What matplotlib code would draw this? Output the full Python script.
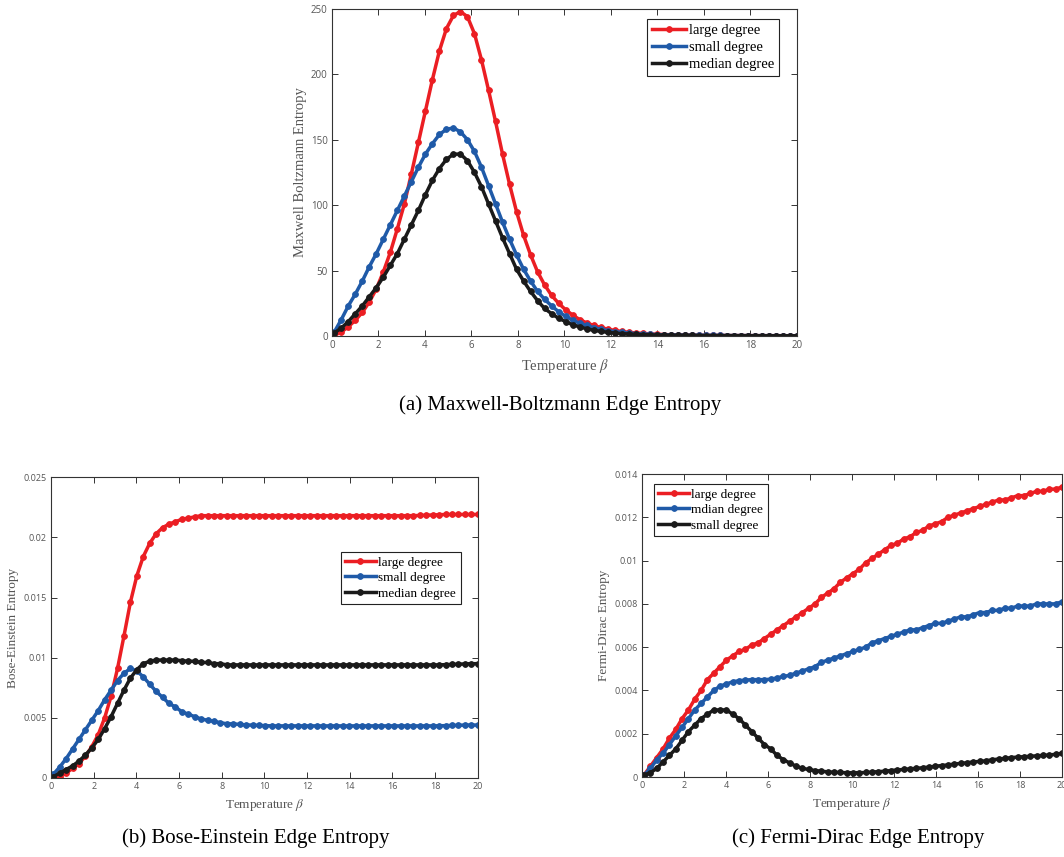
import numpy as np
import matplotlib
matplotlib.use("Agg")
import matplotlib.pyplot as plt
from matplotlib.ticker import FuncFormatter

plt.rcParams['mathtext.fontset'] = 'stix'

# temperature grid shared by all three panels
beta = np.linspace(0.1, 20, 67)

# (a) Maxwell-Boltzmann edge entropy
mb_large = [0.5, 3, 7, 12, 18, 26, 36, 49, 64, 82, 101, 124, 148, 172, 196, 218, 235, 245,
            248, 244, 231, 211, 188, 164, 139, 116, 95, 77, 62, 49, 39, 31, 25, 20, 16, 12.5,
            10, 8, 6.5, 5.2, 4.2, 3.4, 2.8, 2.3, 1.9, 1.6, 1.3, 1.1, 0.9, 0.8, 0.7, 0.6, 0.5,
            0.45, 0.4, 0.35, 0.3, 0.28, 0.26, 0.24, 0.22, 0.2, 0.19, 0.18, 0.17, 0.16, 0.15]
mb_small = [3, 12.5, 23, 32, 42, 53, 63, 74, 85, 96, 107, 118, 129, 139, 147, 154, 158, 159,
            156, 150, 141, 129, 115, 101, 87, 74, 62, 51, 42, 34, 28, 23, 18.5, 15, 12, 9.8,
            8, 6.4, 5.1, 4.1, 3.3, 2.7, 2.2, 1.8, 1.5, 1.25, 1.05, 0.9, 0.78, 0.68, 0.6, 0.53,
            0.47, 0.42, 0.38, 0.34, 0.31, 0.29, 0.27, 0.25, 0.23, 0.22, 0.21, 0.2, 0.19, 0.18, 0.17]
mb_median = [2.3, 6, 11, 17, 23, 30, 37, 45, 54, 63, 74, 85, 96, 108, 119, 128, 135, 139,
             139, 134, 125, 114, 101, 88, 75, 63, 51, 42, 34, 27, 21, 17, 13.5, 11, 8.5, 7,
             5.5, 4.3, 3.5, 2.8, 2.2, 1.8, 1.5, 1.2, 1.0, 0.85, 0.72, 0.62, 0.54, 0.47, 0.42,
             0.37, 0.33, 0.3, 0.28, 0.26, 0.24, 0.22, 0.21, 0.2, 0.19, 0.18, 0.17, 0.16, 0.15, 0.14, 0.13]

# (b) Bose-Einstein edge entropy
be_large = [0.0, 0.0001, 0.0004, 0.0008, 0.0012, 0.0018, 0.0026, 0.0036, 0.0050, 0.0068,
            0.0091, 0.0118, 0.0146, 0.0168, 0.0184, 0.0195, 0.0203, 0.0208, 0.0211, 0.0213,
            0.0215, 0.0216, 0.0217, 0.0218, 0.0218, 0.0218, 0.0218, 0.0218, 0.0218, 0.0218,
            0.0218, 0.0218, 0.0218, 0.0218, 0.0218, 0.0218, 0.0218, 0.0218, 0.0218, 0.0218,
            0.0218, 0.0218, 0.0218, 0.0218, 0.0218, 0.0218, 0.0218, 0.0218, 0.0218, 0.0218,
            0.0218, 0.0218, 0.0218, 0.0218, 0.0218, 0.0218, 0.0218, 0.02182, 0.02184, 0.02186,
            0.02188, 0.0219, 0.0219, 0.0219, 0.0219, 0.0219, 0.0219]
be_small = [0.0003, 0.0009, 0.0016, 0.0024, 0.0032, 0.0040, 0.0048, 0.0056, 0.0065, 0.0073,
            0.0081, 0.0087, 0.0091, 0.0089, 0.0084, 0.0078, 0.0072, 0.0067, 0.0062, 0.0059,
            0.0055, 0.0053, 0.0051, 0.0049, 0.0048, 0.0047, 0.0046, 0.0045, 0.0045, 0.00445,
            0.0044, 0.0044, 0.00437, 0.00435, 0.00433, 0.00433, 0.00433, 0.00433, 0.00433,
            0.00433, 0.00433, 0.00433, 0.00433, 0.00433, 0.00433, 0.00433, 0.00433, 0.00433,
            0.00433, 0.00433, 0.00433, 0.00433, 0.00433, 0.00433, 0.00433, 0.00433, 0.00433,
            0.00433, 0.00433, 0.00433, 0.00434, 0.00435, 0.00437, 0.00438, 0.0044, 0.0044, 0.0044]
be_median = [0.0001, 0.0004, 0.0007, 0.0010, 0.0014, 0.0019, 0.0025, 0.0032, 0.0041, 0.0051,
             0.0062, 0.0073, 0.0083, 0.0090, 0.0095, 0.0097, 0.0098, 0.0098, 0.0098, 0.0098,
             0.00975, 0.0097, 0.0097, 0.0096, 0.0096, 0.0095, 0.0095, 0.0094, 0.0094, 0.0094,
             0.0094, 0.0094, 0.0094, 0.0094, 0.0094, 0.0094, 0.0094, 0.0094, 0.0094, 0.0094,
             0.0094, 0.0094, 0.0094, 0.0094, 0.0094, 0.0094, 0.0094, 0.0094, 0.0094, 0.0094,
             0.0094, 0.0094, 0.0094, 0.0094, 0.0094, 0.0094, 0.0094, 0.0094, 0.0094, 0.0094,
             0.0094, 0.00942, 0.00944, 0.00946, 0.00948, 0.0095, 0.0095]

# (c) Fermi-Dirac edge entropy
fd_large = [0.0001, 0.0005, 0.0009, 0.0013, 0.0018, 0.0022, 0.0027, 0.0031, 0.0036, 0.0040,
            0.0045, 0.0048, 0.0051, 0.0054, 0.0056, 0.0058, 0.0059, 0.0061, 0.0062, 0.0064,
            0.0066, 0.0068, 0.0070, 0.0072, 0.0074, 0.0076, 0.0078, 0.0080, 0.0083, 0.0085,
            0.0087, 0.0090, 0.0092, 0.0094, 0.0096, 0.0099, 0.0101, 0.0103, 0.0105, 0.0107,
            0.0108, 0.0110, 0.0111, 0.0113, 0.0114, 0.0116, 0.0117, 0.0118, 0.0120, 0.0121,
            0.0122, 0.0123, 0.0124, 0.0125, 0.0126, 0.0127, 0.0128, 0.0128, 0.0129, 0.0130,
            0.0130, 0.0131, 0.0132, 0.0132, 0.0133, 0.0133, 0.0134]
fd_median = [0.0001, 0.0004, 0.0008, 0.0011, 0.0015, 0.0019, 0.0023, 0.0027, 0.0031, 0.0034,
             0.0037, 0.0040, 0.0042, 0.0043, 0.0044, 0.00445, 0.00448, 0.0045, 0.0045, 0.0045,
             0.00452, 0.00458, 0.00465, 0.0047, 0.0048, 0.0049, 0.0050, 0.0051, 0.0053, 0.0054,
             0.0055, 0.0056, 0.0057, 0.0058, 0.0059, 0.0060, 0.0062, 0.0063, 0.0064, 0.0065,
             0.0066, 0.0067, 0.0068, 0.0068, 0.0069, 0.0070, 0.0071, 0.0071, 0.0072, 0.0073,
             0.0074, 0.0074, 0.0075, 0.0076, 0.0076, 0.0077, 0.0077, 0.0078, 0.0078, 0.0079,
             0.0079, 0.0079, 0.0080, 0.0080, 0.0080, 0.0080, 0.0081]
fd_small = [0.0001, 0.0002, 0.0004, 0.0007, 0.0010, 0.0013, 0.0017, 0.0021, 0.0024, 0.0027,
            0.0029, 0.0031, 0.0031, 0.0031, 0.0029, 0.0027, 0.0024, 0.0021, 0.0018, 0.0015,
            0.0013, 0.0010, 0.0008, 0.00065, 0.0005, 0.0004, 0.00035, 0.0003, 0.00027, 0.00024,
            0.00022, 0.00021, 0.0002, 0.0002, 0.0002, 0.00021, 0.00023, 0.00025, 0.00027, 0.0003,
            0.00033, 0.00035, 0.00038, 0.0004, 0.00043, 0.00046, 0.0005, 0.00053, 0.00056, 0.0006,
            0.00063, 0.00066, 0.0007, 0.00072, 0.00075, 0.0008, 0.00083, 0.00086, 0.0009, 0.00092,
            0.00094, 0.00096, 0.00098, 0.001, 0.00102, 0.00105, 0.0011]

RED = '#EB1E23'
BLUE = '#1F5AA8'
BLACK = '#1A1A1A'
SERIF = 'Liberation Serif'
TICKFONT = 'Open Sans'


def draw_panel(ax, series, ymax, ystep, ylabel, fs_label, fs_tick, fs_leg, leg_loc, leg_anchor):
    for vals, color, name in series:
        ax.plot(beta, vals, color=color, lw=2.5, marker='o', markersize=4.2,
                markeredgewidth=0.6, markeredgecolor=color, label=name)
    ax.set_xlim(0, 20)
    ax.set_ylim(0, ymax)
    ax.set_xticks(np.arange(0, 21, 2))
    ax.set_yticks(np.arange(0, ymax + ystep / 2, ystep))
    ax.yaxis.set_major_formatter(FuncFormatter(lambda v, p: '%g' % round(v, 6)))
    ax.tick_params(direction='in', top=True, right=True, length=4, width=0.7,
                   colors='#333333', labelcolor='#555555', labelsize=fs_tick, pad=3)
    for lab in ax.get_xticklabels() + ax.get_yticklabels():
        lab.set_fontfamily(TICKFONT)
    for sp in ax.spines.values():
        sp.set_color('#333333')
        sp.set_linewidth(0.8)
    ax.set_xlabel(r'Temperature $\beta$', family=SERIF, fontsize=fs_label, color='#555555', labelpad=4)
    ax.set_ylabel(ylabel, family=SERIF, fontsize=fs_label, color='#555555', labelpad=3)
    leg = ax.legend(loc=leg_loc, bbox_to_anchor=leg_anchor, borderaxespad=0, fancybox=False,
                    edgecolor='#222222', framealpha=1, handlelength=2.3, handletextpad=0.2,
                    labelspacing=0.25, borderpad=0.35, prop={'family': SERIF, 'size': fs_leg})
    leg.get_frame().set_linewidth(0.8)


fig = plt.figure(figsize=(10.64, 8.57), dpi=100)

ax_a = fig.add_axes([0.312, 0.608, 0.437, 0.3816])
draw_panel(ax_a, [(mb_large, RED, 'large degree'), (mb_small, BLUE, 'small degree'),
                  (mb_median, BLACK, 'median degree')],
           250, 50, 'Maxwell Boltzmann Entropy', 10.5, 7, 10.5, 'upper right', (0.962, 0.97))

ax_b = fig.add_axes([0.048, 0.0922, 0.401, 0.351])
draw_panel(ax_b, [(be_large, RED, 'large degree'), (be_small, BLUE, 'small degree'),
                  (be_median, BLACK, 'median degree')],
           0.025, 0.005, 'Bose-Einstein Entropy', 9.5, 6.5, 9.5, 'center right', (0.96, 0.665))

ax_c = fig.add_axes([0.6034, 0.0933, 0.3947, 0.3536])
draw_panel(ax_c, [(fd_large, RED, 'large degree'), (fd_median, BLUE, 'mdian degree'),
                  (fd_small, BLACK, 'small degree')],
           0.014, 0.002, 'Fermi-Dirac Entropy', 9.5, 6.5, 9.5, 'upper left', (0.028, 0.968))

fig.text(560 / 1064, 1 - 405 / 857, '(a) Maxwell-Boltzmann Edge Entropy', family=SERIF,
         fontsize=15, ha='center', va='center')
fig.text(256 / 1064, 1 - 838 / 857, '(b) Bose-Einstein Edge Entropy', family=SERIF,
         fontsize=15, ha='center', va='center')
fig.text(858 / 1064, 1 - 838 / 857, '(c) Fermi-Dirac Edge Entropy', family=SERIF,
         fontsize=15, ha='center', va='center')

fig.savefig('out.png', dpi=100)
